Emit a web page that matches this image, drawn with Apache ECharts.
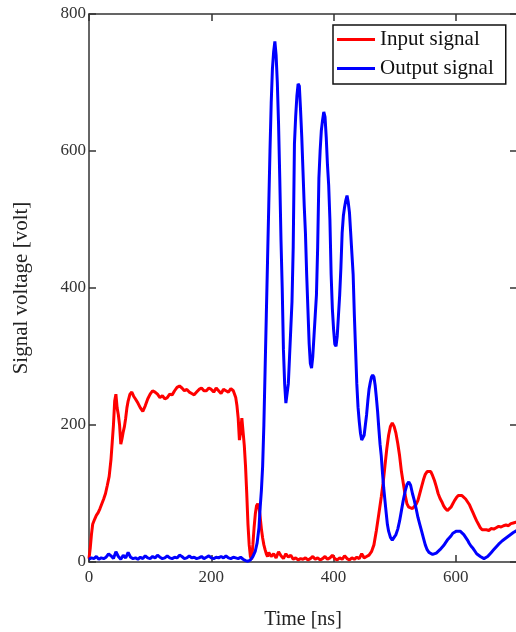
<!DOCTYPE html>
<html>
<head>
<meta charset="utf-8">
<script src="https://cdn.jsdelivr.net/npm/echarts@6/dist/echarts.min.js"></script>
<style>
  html, body { margin: 0; padding: 0; background: #fff; }
  #chart { width: 516px; height: 632px; }
</style>
</head>
<body>
<div id="chart"></div>
<script>
// 输入信号 (红)
const inputTime = [0, 2, 4, 6, 9, 12, 15, 18, 21, 24, 27, 30, 33, 36, 38, 40, 42, 44, 46, 48, 50, 52, 54, 56, 58, 60, 62, 64, 67, 70, 73, 76, 80, 84, 88, 92, 96, 100, 104, 108, 112, 116, 120, 124, 128, 132, 136, 140, 144, 148, 152, 156, 160, 164, 168, 172, 176, 180, 184, 188, 192, 196, 200, 204, 208, 212, 216, 220, 224, 228, 232, 236, 240, 242, 244, 246, 248, 250, 252, 254, 256, 258, 260, 262, 264, 266, 268, 270, 272, 274, 276, 278, 280, 282, 284, 286, 288, 290, 292, 294, 298, 302, 306, 310, 314, 318, 322, 326, 330, 334, 338, 342, 346, 350, 354, 358, 362, 366, 370, 374, 378, 382, 386, 390, 394, 398, 402, 406, 410, 414, 418, 422, 426, 430, 434, 438, 442, 446, 450, 454, 458, 462, 466, 470, 474, 478, 481, 484, 487, 490, 493, 496, 499, 502, 505, 508, 511, 514, 517, 520, 523, 526, 529, 532, 535, 538, 541, 544, 547, 550, 553, 556, 559, 562, 565, 568, 571, 574, 577, 580, 583, 586, 589, 592, 595, 598, 601, 604, 607, 610, 613, 616, 619, 622, 625, 628, 631, 634, 637, 640, 643, 646, 650, 654, 658, 662, 666, 670, 674, 678, 682, 686, 690, 694, 698, 700];
const inputVolt = [5, 20, 40, 55, 62, 68, 72, 78, 85, 92, 100, 112, 125, 150, 175, 200, 235, 245, 225, 215, 200, 172, 180, 190, 198, 210, 225, 235, 245, 248, 242, 238, 232, 225, 220, 228, 238, 245, 250, 248, 245, 240, 243, 238, 240, 245, 244, 250, 255, 257, 254, 250, 252, 248, 246, 244, 248, 252, 254, 250, 250, 254, 252, 248, 254, 250, 246, 252, 250, 248, 253, 250, 240, 228, 210, 178, 190, 210, 190, 170, 140, 100, 55, 25, 8, 4, 25, 50, 70, 82, 85, 80, 65, 48, 35, 25, 18, 12, 8, 14, 8, 12, 6, 15, 9, 5, 12, 7, 10, 4, 6, 3, 5, 4, 6, 3, 5, 8, 4, 6, 3, 5, 8, 4, 6, 10, 5, 3, 6, 4, 9, 5, 3, 6, 4, 7, 5, 12, 6, 8, 10, 15, 25, 46, 70, 95, 115, 140, 165, 185, 198, 203, 198, 188, 173, 155, 132, 115, 98, 85, 80, 78, 78, 80, 84, 90, 100, 110, 120, 128, 132, 134, 132, 126, 119, 110, 100, 93, 88, 82, 78, 75, 76, 80, 85, 90, 94, 97, 98, 97, 95, 92, 88, 84, 78, 72, 66, 60, 55, 50, 47, 46, 47, 46, 49, 48, 50, 52, 51, 53, 54, 53, 56, 57, 58, 58];

// 输出信号 (蓝)
const outputTime = [0, 4, 8, 12, 16, 20, 24, 28, 32, 36, 40, 44, 48, 52, 56, 60, 64, 68, 72, 76, 80, 84, 88, 92, 96, 100, 104, 108, 112, 116, 120, 124, 128, 132, 136, 140, 144, 148, 152, 156, 160, 164, 168, 172, 176, 180, 184, 188, 192, 196, 200, 204, 208, 212, 216, 220, 224, 228, 232, 236, 240, 244, 248, 252, 256, 260, 264, 268, 272, 275, 278, 280, 282, 284, 286, 288, 290, 292, 294, 296, 298, 300, 302, 304, 306, 308, 310, 312, 314, 316, 318, 320, 322, 324, 326, 328, 330, 332, 334, 336, 338, 340, 342, 344, 346, 348, 350, 352, 354, 356, 358, 360, 362, 364, 366, 368, 370, 372, 374, 376, 378, 380, 382, 384, 386, 388, 390, 392, 394, 396, 398, 400, 402, 404, 406, 408, 410, 412, 414, 416, 418, 420, 422, 424, 426, 428, 430, 432, 434, 436, 438, 440, 442, 444, 446, 448, 450, 452, 454, 456, 458, 460, 462, 464, 466, 468, 470, 472, 474, 476, 478, 480, 482, 484, 486, 488, 490, 493, 496, 499, 502, 505, 508, 511, 514, 517, 520, 523, 526, 529, 532, 535, 538, 541, 544, 547, 550, 553, 556, 559, 562, 565, 568, 571, 574, 577, 580, 583, 586, 589, 592, 595, 598, 601, 604, 607, 610, 613, 616, 619, 622, 625, 628, 631, 634, 637, 640, 643, 646, 649, 652, 655, 658, 661, 664, 667, 670, 673, 676, 679, 682, 685, 688, 691, 694, 698, 700];
const outputVolt = [4, 6, 5, 8, 4, 6, 5, 7, 12, 9, 5, 15, 8, 4, 10, 6, 14, 7, 5, 6, 4, 7, 5, 9, 6, 5, 8, 6, 10, 7, 5, 6, 9, 6, 5, 7, 6, 10, 8, 5, 6, 9, 6, 7, 5, 6, 8, 5, 7, 9, 6, 5, 7, 6, 8, 6, 9, 6, 5, 7, 6, 5, 7, 4, 2, 1, 3, 8, 16, 28, 50, 80, 105, 140, 200, 280, 360, 440, 520, 600, 670, 720, 745, 760, 740, 700, 640, 560, 470, 400, 310, 260, 232, 230, 260, 300, 340, 380, 460, 610, 650, 680, 698, 695, 660, 620, 570, 520, 480, 420, 370, 320, 290, 283, 300, 330, 360, 390, 460, 560, 600, 630, 645, 657, 650, 620, 580, 550, 500, 420, 370, 340, 318, 315, 330, 360, 390, 430, 480, 505, 518, 528, 535, 525, 510, 480, 450, 420, 360, 310, 260, 226, 205, 188, 178, 176, 185, 200, 215, 235, 252, 262, 270, 273, 270, 258, 240, 220, 195, 172, 155, 130, 108, 90, 72, 55, 45, 36, 32, 33, 40, 48, 60, 75, 90, 103, 113, 117, 112, 100, 90, 78, 65, 55, 45, 35, 25, 18, 14, 12, 11, 12, 13, 15, 18, 20, 24, 28, 32, 35, 38, 42, 44, 45, 46, 45, 43, 40, 36, 32, 27, 23, 20, 16, 12, 10, 8, 6, 5, 6, 8, 11, 14, 17, 20, 23, 26, 28, 31, 33, 35, 37, 39, 41, 43, 45, 46];

const seriesNames = ["Input signal", "Output signal"];
const xTitle = "Time [ns]";
const yTitle = "Signal voltage [volt]";

const zip = (xs, ys) => xs.map((x, i) => [x, ys[i]]);

const font = "Liberation Serif";
const axisColor = "#333";

const chart = echarts.init(document.getElementById("chart"));

const xBase = {
  type: "value",
  min: 0,
  max: 700,
  interval: 200,
  splitLine: { show: false },
  axisLine: { show: true, onZero: false, lineStyle: { color: axisColor, width: 1.5 } },
  axisTick: { show: true, inside: true, length: 7, lineStyle: { color: axisColor, width: 1.5 } },
};
const yBase = {
  type: "value",
  min: 0,
  max: 800,
  interval: 200,
  splitLine: { show: false },
  axisLine: { show: true, onZero: false, lineStyle: { color: axisColor, width: 1.5 } },
  axisTick: { show: true, inside: true, length: 7, lineStyle: { color: axisColor, width: 1.5 } },
};

chart.setOption({
  animation: false,
  backgroundColor: "#fff",
  grid: { left: 89, top: 14, width: 428, height: 548, containLabel: false, outerBoundsMode: "none" },
  legend: {
    orient: "vertical",
    left: 333,
    top: 25,
    icon: "rect",
    itemWidth: 38,
    itemHeight: 3,
    itemGap: 8,
    padding: [4, 12, 5, 4],
    borderColor: "#111",
    borderWidth: 1.5,
    backgroundColor: "#fff",
    textStyle: { fontFamily: font, fontSize: 21, color: "#111" },
    data: seriesNames,
  },
  xAxis: [
    Object.assign({}, xBase, {
      position: "bottom",
      name: xTitle,
      nameLocation: "middle",
      nameGap: 48,
      nameTextStyle: { fontFamily: font, fontSize: 20, color: "#222" },
      axisLabel: { fontFamily: font, fontSize: 17, color: "#333", margin: 7, showMaxLabel: false },
    }),
    Object.assign({}, xBase, { position: "top", axisLabel: { show: false } }),
  ],
  yAxis: [
    Object.assign({}, yBase, {
      position: "left",
      name: yTitle,
      nameLocation: "middle",
      nameGap: 57,
      nameTextStyle: { fontFamily: font, fontSize: 21, color: "#222" },
      axisLabel: { fontFamily: font, fontSize: 17, color: "#333", margin: 3 },
    }),
    Object.assign({}, yBase, { position: "right", axisLabel: { show: false } }),
  ],
  series: [
    {
      name: seriesNames[0],
      type: "line",
      xAxisIndex: 0,
      yAxisIndex: 0,
      symbol: "none",
      lineStyle: { color: "#ff0000", width: 3 },
      itemStyle: { color: "#ff0000" },
      data: zip(inputTime, inputVolt),
    },
    {
      name: seriesNames[1],
      type: "line",
      xAxisIndex: 0,
      yAxisIndex: 0,
      symbol: "none",
      lineStyle: { color: "#0000ff", width: 3 },
      itemStyle: { color: "#0000ff" },
      data: zip(outputTime, outputVolt),
    },
  ],
});
</script>
</body>
</html>
